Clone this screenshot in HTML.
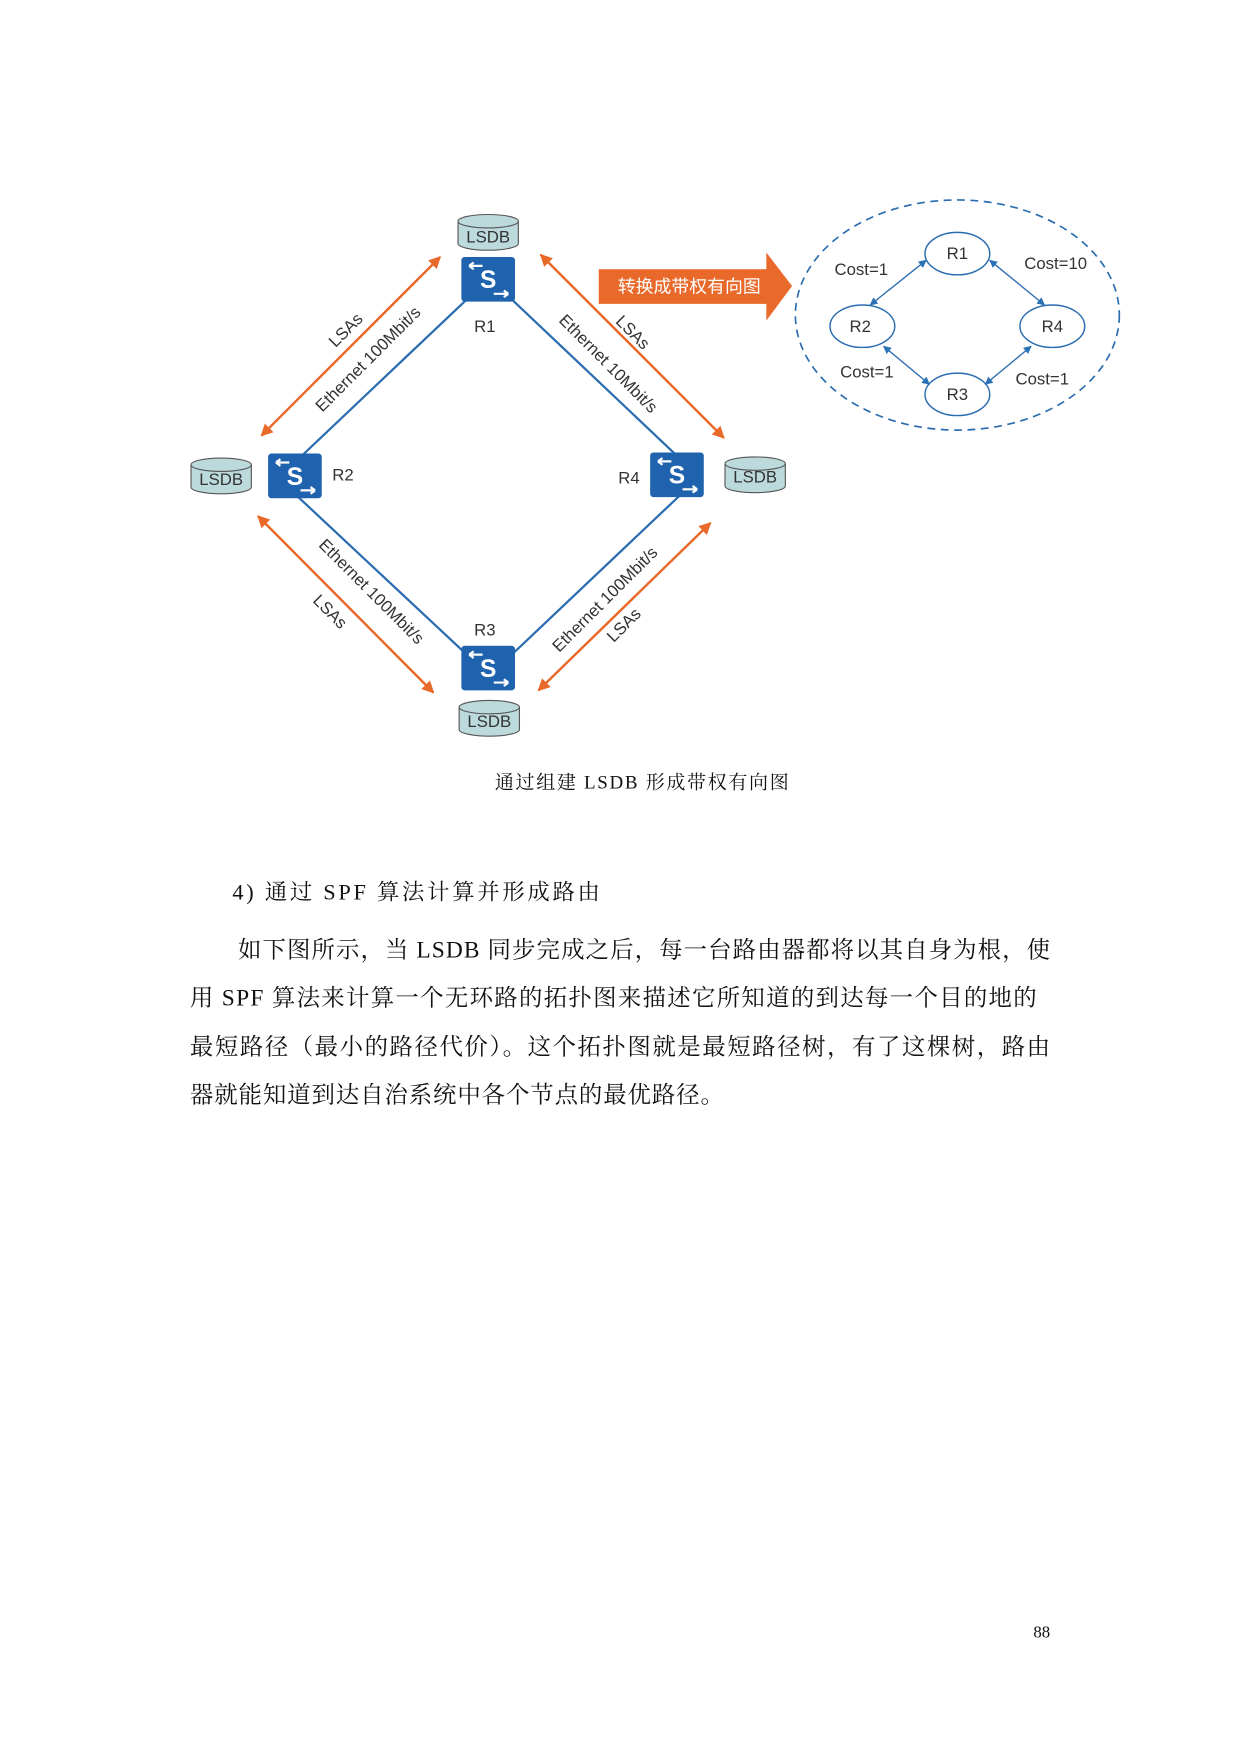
<!DOCTYPE html>
<html><head><meta charset="utf-8"><style>
html,body{margin:0;padding:0;background:#fff;width:1240px;height:1753px;overflow:hidden}
svg{display:block}
.s{font-family:"Liberation Sans","Noto Sans CJK SC",sans-serif}
.t{font-family:"Liberation Serif","Noto Serif CJK SC",serif;fill:#111}
</style></head><body>
<svg width="1240" height="1753" viewBox="0 0 1110 1569.2" xmlns="http://www.w3.org/2000/svg">
<defs>
<marker id="ao" viewBox="0 0 10 10" refX="9" refY="5" markerWidth="5" markerHeight="5" orient="auto-start-reverse"><path d="M0,0L10,5L0,10z" fill="#e8692a"/></marker>
<marker id="ab" viewBox="0 0 10 10" refX="9" refY="5" markerWidth="6" markerHeight="6" orient="auto-start-reverse"><path d="M0,0L10,5L0,10z" fill="#2a72b5"/></marker>
<g id="cyl"><path d="M-27,-10 V10 A27,6 0 0 0 27,10 V-10" fill="#bcd9dc" stroke="#555" stroke-width="1"/><ellipse cx="0" cy="-10" rx="27" ry="6" fill="#bcd9dc" stroke="#555" stroke-width="1"/></g>
<g id="sw"><rect x="-24" y="-20" width="48" height="40" rx="3" fill="#1f62ad"/>
<path d="M-17,-12 H-5 M-17,-12 l4,-3 M-17,-12 l4,3" stroke="#fff" stroke-width="2" fill="none"/>
<path d="M5,13 H18 M18,13 l-4,-3 M18,13 l-4,3" stroke="#fff" stroke-width="2" fill="none"/></g>
</defs>
<!-- blue links -->
<g stroke="#2a6cb0" stroke-width="2">
<line x1="420" y1="266" x2="268" y2="410"/>
<line x1="456" y1="266" x2="606" y2="408"/>
<line x1="266" y1="444" x2="420" y2="588"/>
<line x1="456" y1="588" x2="608" y2="444"/>
</g>
<!-- orange LSA arrows -->
<g stroke="#e8692a" stroke-width="2.2" marker-start="url(#ao)" marker-end="url(#ao)">
<line x1="394" y1="230" x2="234" y2="390"/>
<line x1="484" y1="228" x2="648" y2="392"/>
<line x1="231" y1="462" x2="388" y2="620"/>
<line x1="482" y1="618" x2="636" y2="468"/>
</g>
<g class="s" font-size="15" fill="#333" text-anchor="middle">
<text transform="translate(313,299) rotate(-45)">LSAs</text>
<text transform="translate(333,325) rotate(-45)">Ethernet 100Mbit/s</text>
<text transform="translate(541,329) rotate(45)">Ethernet 10Mbit/s</text>
<text transform="translate(563,301) rotate(45)">LSAs</text>
<text transform="translate(329,533) rotate(45)">Ethernet 100Mbit/s</text>
<text transform="translate(292,551) rotate(45)">LSAs</text>
<text transform="translate(545,540) rotate(-45)">Ethernet 100Mbit/s</text>
<text transform="translate(562,563) rotate(-45)">LSAs</text>
</g>
<!-- LSDB -->
<g class="s" font-size="15" fill="#333" text-anchor="middle">
<use href="#cyl" x="437" y="208"/><text x="437" y="217">LSDB</text>
<use href="#cyl" x="198" y="426"/><text x="198" y="434">LSDB</text>
<use href="#cyl" x="676" y="425"/><text x="676" y="432">LSDB</text>
<use href="#cyl" x="438" y="643"/><text x="438" y="651">LSDB</text>
</g>
<!-- switches -->
<g class="s" font-size="22" font-weight="bold" fill="#fff" text-anchor="middle">
<use href="#sw" x="437" y="250"/><text x="437" y="258">S</text>
<use href="#sw" x="264" y="426"/><text x="264" y="434">S</text>
<use href="#sw" x="606" y="425"/><text x="606" y="433">S</text>
<use href="#sw" x="437" y="598"/><text x="437" y="606">S</text>
</g>
<g class="s" font-size="15" fill="#333" text-anchor="middle">
<text x="434" y="297">R1</text><text x="307" y="430">R2</text><text x="563" y="433">R4</text><text x="434" y="569">R3</text>
</g>
<!-- big arrow -->
<path d="M536,241 H686 V226 L709,256 L686,287 V272 H536 Z" fill="#e8692a"/>
<text class="s" x="617" y="262" font-size="16" fill="#fff" text-anchor="middle">转换成带权有向图</text>
<!-- graph -->
<ellipse cx="857" cy="282" rx="145" ry="103" fill="none" stroke="#2a6cb0" stroke-width="1.5" stroke-dasharray="7,5"/>
<g fill="#fff" stroke="#2a6cb0" stroke-width="1.3">
<ellipse cx="857" cy="227" rx="29" ry="19"/><ellipse cx="772" cy="292" rx="29" ry="19"/>
<ellipse cx="942" cy="292" rx="29" ry="19"/><ellipse cx="857" cy="353" rx="29" ry="19"/>
</g>
<g stroke="#2a6cb0" stroke-width="1.2" marker-start="url(#ab)" marker-end="url(#ab)">
<line x1="829" y1="233" x2="779" y2="273"/><line x1="886" y1="233" x2="935" y2="273"/>
<line x1="791" y1="310" x2="832" y2="344"/><line x1="923" y1="310" x2="882" y2="344"/>
</g>
<g class="s" font-size="15" fill="#333" text-anchor="middle">
<text x="857" y="232">R1</text><text x="770" y="297">R2</text><text x="942" y="297">R4</text><text x="857" y="358">R3</text>
<text x="771" y="246">Cost=1</text><text x="945" y="241">Cost=10</text><text x="776" y="338">Cost=1</text><text x="933" y="344">Cost=1</text>
</g>
<!-- body text -->
<g class="t">
<text x="443" y="706" font-size="17" textLength="263">通过组建 LSDB 形成带权有向图</text>
<text x="208" y="805" font-size="20" textLength="329">4)  通过 SPF 算法计算并形成路由</text>
<text x="213" y="857" font-size="21" textLength="727">如下图所示，当 LSDB 同步完成之后，每一台路由器都将以其自身为根，使</text>
<text x="170" y="900" font-size="21" textLength="758">用 SPF 算法来计算一个无环路的拓扑图来描述它所知道的到达每一个目的地的</text>
<text x="170" y="944" font-size="21" textLength="770">最短路径（最小的路径代价）。这个拓扑图就是最短路径树，有了这棵树，路由</text>
<text x="170" y="987" font-size="21" textLength="478">器就能知道到达自治系统中各个节点的最优路径。</text>
<text x="925" y="1466" font-size="15">88</text>
</g>
</svg>
</body></html>
